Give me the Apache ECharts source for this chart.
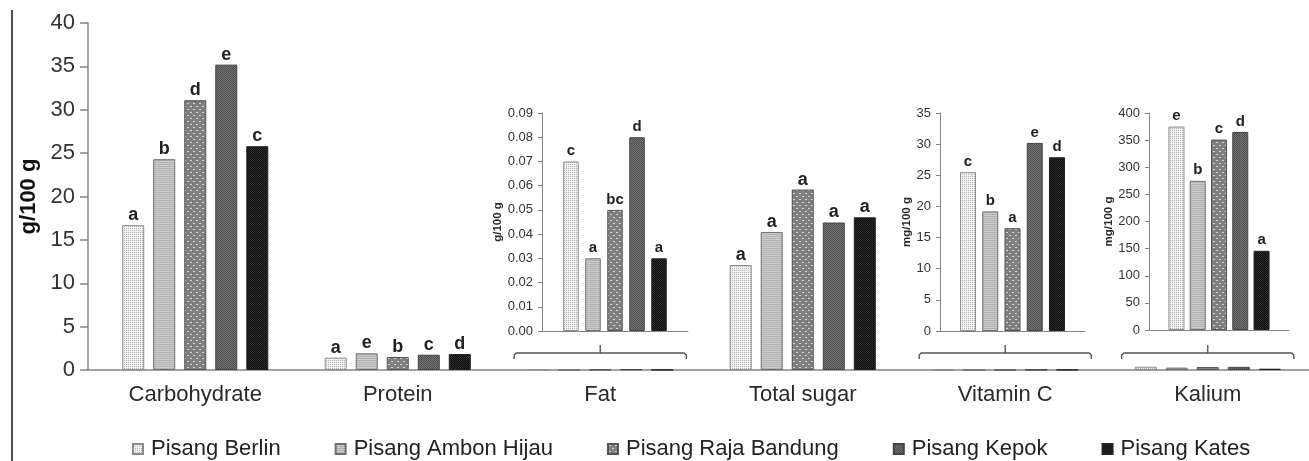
<!DOCTYPE html>
<html>
<head>
<meta charset="utf-8">
<script src="https://cdn.jsdelivr.net/npm/echarts@6/dist/echarts.min.js"></script>
<style>
  html, body { margin: 0; padding: 0; background: #fff; }
  #chart { width: 1309px; height: 461px; }
</style>
</head>
<body>
<div id="chart"></div>
<script>
// data
var varieties = ['Pisang Berlin', 'Pisang Ambon Hijau', 'Pisang Raja Bandung', 'Pisang Kepok', 'Pisang Kates'];
var categories = ['Carbohydrate', 'Protein', 'Fat', 'Total sugar', 'Vitamin C', 'Kalium'];

var carbohydrate = [16.7, 24.3, 31.1, 35.2, 25.8];   // g/100 g
var protein = [1.42, 1.92, 1.5, 1.76, 1.84];         // g/100 g
var fat = [0.07, 0.03, 0.05, 0.08, 0.03];            // g/100 g
var totalSugar = [12.1, 15.9, 20.8, 17.0, 17.6];     // g/100 g
var vitaminC = [25.5, 19.2, 16.5, 30.2, 27.9];       // mg/100 g
var kalium = [375, 275, 351, 365, 146];              // mg/100 g

var carbLetters = ['a', 'b', 'd', 'e', 'c'];
var proteinLetters = ['a', 'e', 'b', 'c', 'd'];
var sugarLetters = ['a', 'a', 'a', 'a', 'a'];
var fatLetters = ['c', 'a', 'bc', 'd', 'a'];
var vitcLetters = ['c', 'b', 'a', 'e', 'd'];
var kaliumLetters = ['e', 'b', 'c', 'd', 'a'];

var bracketCats = [2, 4, 5];

// fill patterns for the five bananas
function makePattern(size, bg, dots, dotColor) {
    var c = document.createElement('canvas');
    c.width = size;
    c.height = size;
    var ctx = c.getContext('2d');
    ctx.fillStyle = bg;
    ctx.fillRect(0, 0, size, size);
    ctx.fillStyle = dotColor;
    dots.forEach(function (d) {
        ctx.fillRect(d[0], d[1], 1, 1);
    });
    return { image: c, repeat: 'repeat' };
}

var patterns = [
    makePattern(2, '#f1f1f1', [[0, 0]], '#b4b4b4'),
    makePattern(2, '#cbcbcb', [[0, 0], [1, 0]], '#b3b3b3'),
    makePattern(6, '#7f7f7f', [[1, 1], [2, 1], [4, 4], [5, 4]], '#d4d4d4'),
    makePattern(2, '#737373', [[0, 0], [1, 1]], '#4e4e4e'),
    makePattern(2, '#2e2e2e', [[0, 0], [1, 1]], '#0a0a0a')
];
var borders = ['#8c8c8c', '#6e6e6e', '#555', '#444', '#222'];

var FONT = 'Liberation Sans';
var AXIS_GRAY = '#858585';
var TEXT = '#2a2a2a';

var myChart = echarts.init(document.getElementById('chart'));

function insetY(idx, min, max, interval, name, gap, decimals) {
    return {
        type: 'value',
        gridIndex: idx,
        min: min,
        max: max,
        interval: interval,
        name: name,
        nameLocation: 'middle',
        nameGap: gap,
        nameTextStyle: { fontFamily: FONT, fontSize: 11.5, fontWeight: 'bold', color: TEXT },
        axisLine: { show: true, lineStyle: { color: AXIS_GRAY, width: 1 } },
        axisTick: { show: true, length: 4, lineStyle: { color: AXIS_GRAY } },
        axisLabel: {
            fontFamily: FONT, fontSize: 13, color: '#333', margin: 9,
            formatter: function (v) { return v.toFixed(decimals); }
        },
        splitLine: { show: false }
    };
}

function insetX(idx, cat) {
    return {
        type: 'category',
        gridIndex: idx,
        data: [cat],
        axisLine: { show: true, lineStyle: { color: AXIS_GRAY, width: 1 } },
        axisTick: { show: false },
        axisLabel: { show: false }
    };
}

function bracketItem(params, api) {
    var p = api.coord([api.value(0), 0]);
    var half = api.size([1, 0])[0] * 0.425;
    var x = p[0];
    var y = p[1] - 17;
    return {
        type: 'group',
        children: [
            {
                type: 'polyline',
                shape: { points: [[x - half, y + 6], [x - half, y + 2], [x - half + 2, y], [x + half - 2, y], [x + half, y + 2], [x + half, y + 6]] },
                style: { stroke: '#555', fill: null, lineWidth: 1.4 }
            },
            {
                type: 'line',
                shape: { x1: x, y1: y, x2: x, y2: y - 8 },
                style: { stroke: '#555', lineWidth: 1.4 }
            }
        ]
    };
}

var series = [];
varieties.forEach(function (name, i) {
    var style = { color: patterns[i], borderColor: borders[i], borderWidth: 1 };
    var mainLetters = [carbLetters[i], proteinLetters[i], '', sugarLetters[i], '', ''];
    series.push({
        name: name,
        type: 'bar',
        xAxisIndex: 0,
        yAxisIndex: 0,
        barWidth: 22,
        barGap: '41%',
        itemStyle: style,
        label: {
            show: true,
            position: 'top',
            distance: 1,
            fontFamily: FONT,
            fontSize: 18,
            fontWeight: 'bold',
            color: '#222',
            formatter: function (p) { return mainLetters[p.dataIndex]; }
        },
        data: [carbohydrate[i], protein[i], fat[i], totalSugar[i], vitaminC[i] / 1000, kalium[i] / 1000]
    });
    var insets = [
        { axis: 1, value: fat[i], letter: fatLetters[i], width: 15.5, gap: '42%' },
        { axis: 2, value: vitaminC[i], letter: vitcLetters[i], width: 16, gap: '39%' },
        { axis: 3, value: kalium[i], letter: kaliumLetters[i], width: 16, gap: '33%' }
    ];
    insets.forEach(function (s) {
        series.push({
            name: name,
            type: 'bar',
            xAxisIndex: s.axis,
            yAxisIndex: s.axis,
            barWidth: s.width,
            barGap: s.gap,
            itemStyle: style,
            label: {
                show: true,
                position: 'top',
                distance: 3,
                fontFamily: FONT,
                fontSize: 15,
                fontWeight: 'bold',
                color: '#222',
                formatter: s.letter
            },
            data: [s.value]
        });
    });
});

series.push({
    type: 'custom',
    name: 'bracket',
    xAxisIndex: 0,
    yAxisIndex: 0,
    silent: true,
    renderItem: bracketItem,
    encode: { x: 0, y: 1 },
    data: bracketCats.map(function (c) { return [c, 0]; })
});

var option = {
    animation: false,
    backgroundColor: '#fff',
    legend: {
        data: varieties,
        left: 132,
        top: 438,
        padding: 0,
        itemWidth: 10,
        itemHeight: 10,
        itemGap: 54,
        icon: 'rect',
        textStyle: { fontFamily: FONT, fontSize: 22, color: '#222', padding: [0, 0, 0, 3] }
    },
    graphic: [{
        type: 'line',
        shape: { x1: 12, y1: 10, x2: 12, y2: 461 },
        style: { stroke: '#111', lineWidth: 1.5 }
    }],
    grid: [
        { left: 94, top: 23, width: 1226, height: 347 },
        { left: 542, top: 113, width: 146, height: 218 },
        { left: 940, top: 113, width: 145, height: 218 },
        { left: 1149, top: 113, width: 140, height: 217 },
        { left: 88, top: 23, right: 0, height: 347 }
    ],
    xAxis: [
        {
            type: 'category',
            gridIndex: 0,
            data: categories,
            axisLine: { show: false },
            axisTick: { show: false },
            axisLabel: { fontFamily: FONT, fontSize: 22, color: TEXT, margin: 14 }
        },
        insetX(1, 'Fat'),
        insetX(2, 'Vitamin C'),
        insetX(3, 'Kalium'),
        {
            type: 'value',
            gridIndex: 4,
            min: 0,
            max: 1,
            axisLine: { show: true, lineStyle: { color: AXIS_GRAY, width: 1.5 } },
            axisTick: { show: false },
            axisLabel: { show: false },
            splitLine: { show: false }
        }
    ],
    yAxis: [
        {
            type: 'value',
            gridIndex: 0,
            offset: 6,
            min: 0,
            max: 40,
            interval: 5,
            name: 'g/100 g',
            nameLocation: 'middle',
            nameGap: 48,
            nameTextStyle: { fontFamily: FONT, fontSize: 22, fontWeight: 'bold', color: '#111' },
            axisLine: { show: true, lineStyle: { color: AXIS_GRAY, width: 1.5 } },
            axisTick: { show: true, length: 8, lineStyle: { color: AXIS_GRAY, width: 1.5 } },
            axisLabel: { fontFamily: FONT, fontSize: 22, color: '#333', margin: 13 },
            splitLine: { show: false }
        },
        insetY(1, 0, 0.09, 0.01, 'g/100 g', 27, 2),
        insetY(2, 0, 35, 5, 'mg/100 g', 24, 0),
        insetY(3, 0, 400, 50, 'mg/100 g', 30, 0),
        { type: 'value', gridIndex: 4, show: false, min: 0, max: 1 }
    ],
    series: series
};

myChart.setOption(option);
</script>
</body>
</html>
